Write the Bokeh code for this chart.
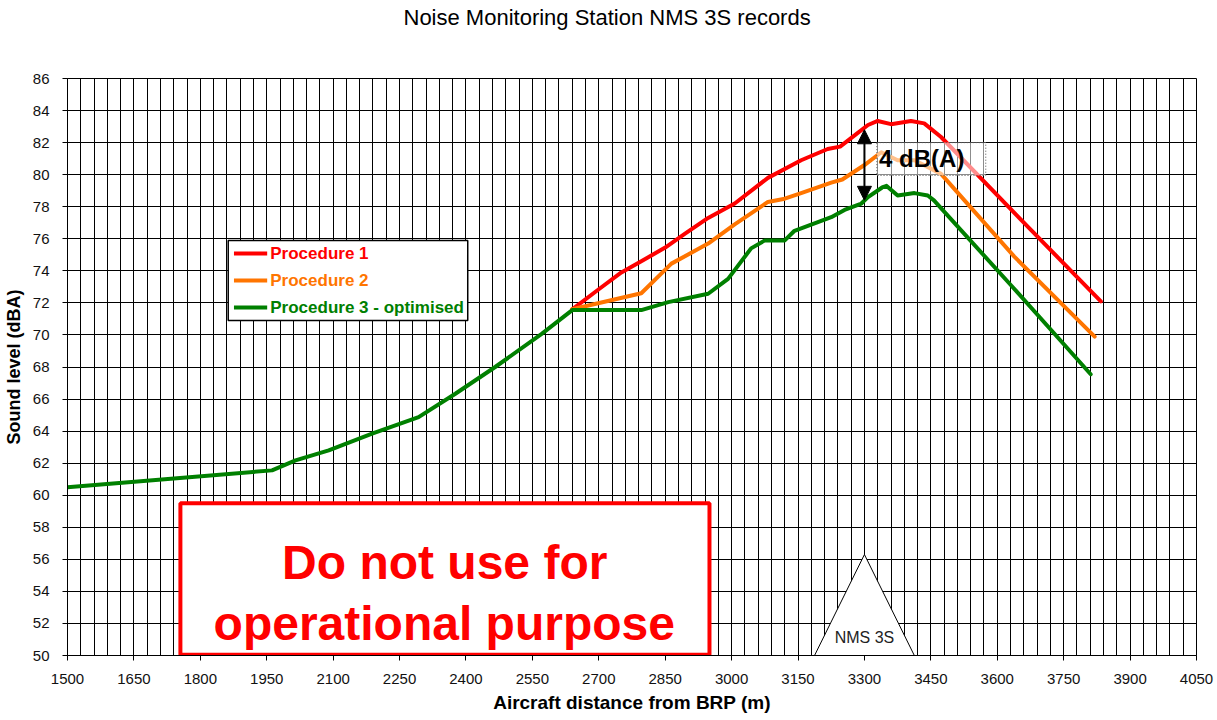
from bokeh.plotting import figure
from bokeh.models import Range1d, SingleIntervalTicker, Label, Arrow, NormalHead, ColumnDataSource, Title
from bokeh.core.properties import value
from bokeh.embed import file_html
from bokeh.resources import INLINE

# ---------------- data ----------------
dist_p1 = [2640, 2700, 2751, 2796, 2850, 2894, 2947, 3007, 3082, 3157, 3217, 3245,
           3280, 3308, 3330, 3360, 3405, 3435, 3473, 3676, 3834]
level_p1 = [71.6, 72.85, 73.9, 74.6, 75.45, 76.3, 77.3, 78.2, 79.8, 80.9, 81.6, 81.75,
            82.5, 83.1, 83.35, 83.15, 83.35, 83.2, 82.35, 76.55, 72.1]

dist_p2 = [2640, 2796, 2864, 2947, 3007, 3082, 3120, 3157, 3225, 3250, 3300, 3338,
           3375, 3413, 3473, 3638, 3820]
level_p2 = [71.6, 72.6, 74.45, 75.7, 76.9, 78.3, 78.5, 78.85, 79.5, 79.7, 80.6, 81.4,
            80.9, 80.9, 80.05, 74.9, 69.9]

dist_p3 = [1500, 1962, 2015, 2090, 2188, 2293, 2376, 2466, 2571, 2640, 2796, 2857,
           2947, 2992, 3044, 3075, 3120, 3142, 3225, 3255, 3293, 3308, 3340, 3350,
           3375, 3413, 3443, 3457, 3631, 3811]
level_p3 = [60.5, 61.55, 62.17, 62.8, 63.84, 64.87, 66.33, 68.0, 70.07, 71.55, 71.55, 72.05,
            72.57, 73.5, 75.4, 75.9, 75.9, 76.5, 77.35, 77.8, 78.2, 78.6, 79.2, 79.3,
            78.7, 78.85, 78.7, 78.4, 73.1, 67.55]

series_names = ["Procedure 1", "Procedure 2", "Procedure 3 - optimised"]
series_colors = ["#FF0000", "#FF7500", "#008000"]

station_x = 3300
station_name = "NMS 3S"
peak_diff_label = "4 dB(A)"
warning_lines = ["Do not use for", "operational purpose"]
title_text = "Noise Monitoring Station NMS 3S records"

x_min, x_max, x_step, x_minor = 1500, 4050, 150, 5
y_min, y_max, y_step = 50, 86, 2

FONT = "Liberation Sans"

p = figure(width=1217, height=720, output_backend="svg", toolbar_location=None,
           x_range=Range1d(x_min, x_max), y_range=Range1d(y_min, y_max),
           min_border_left=65, min_border_right=21, min_border_top=78, min_border_bottom=65,
           background_fill_color="white", border_fill_color="white")
p.outline_line_color = "black"
p.outline_line_width = 1

# title (a blank spacer title sits between the real title and the frame)
spacer = Title(text=" ", text_font=FONT, text_font_size="22px", standoff=17)
p.add_layout(spacer, "above")
p.title.text = title_text
p.title.text_font = FONT
p.title.text_font_size = "22px"
p.title.text_font_style = "normal"
p.title.text_color = "black"
p.title.align = "left"
p.title.offset = 336
p.title.vertical_align = "middle"
p.title.standoff = 7

# axes
p.xaxis.ticker = SingleIntervalTicker(interval=x_step, num_minor_ticks=x_minor)
p.yaxis.ticker = SingleIntervalTicker(interval=y_step, num_minor_ticks=0)
for ax in (p.xaxis, p.yaxis):
    ax.axis_line_color = "black"
    ax.major_tick_line_color = "black"
    ax.major_tick_in = 0
    ax.major_tick_out = 5
    ax.minor_tick_line_color = None
    ax.major_label_text_font = FONT
    ax.major_label_text_font_size = "15px"
    ax.major_label_text_color = "#111111"
    ax.axis_label_text_font = FONT
    ax.axis_label_text_font_style = "bold"
    ax.axis_label_text_font_size = "18px"
    ax.axis_label_text_color = "black"
p.xaxis.axis_label_text_font_size = "19px"
p.xaxis.major_label_standoff = 13
p.yaxis.major_label_standoff = 13
p.xaxis.axis_label = "Aircraft distance from BRP (m)"
p.yaxis.axis_label = "Sound level (dBA)"
p.xaxis.axis_label_standoff = 5
p.yaxis.axis_label_standoff = 6

# grid
p.xgrid.grid_line_color = "black"
p.xgrid.minor_grid_line_color = "black"
p.ygrid.grid_line_color = "black"

# series
for xs, ys, col in ((dist_p1, level_p1, series_colors[0]),
                    (dist_p2, level_p2, series_colors[1]),
                    (dist_p3, level_p3, series_colors[2])):
    p.line(xs, ys, line_color=col, line_width=4, line_join="round", line_cap="round")

# legend (manual, coloured labels)
lg_left, lg_right, lg_top, lg_bottom = 1863, 2404, 75.9, 70.9
p.quad(left=[lg_left], right=[lg_right], top=[lg_top], bottom=[lg_bottom],
       fill_color="white", line_color="black", line_width=1.5)
lg_rows = [75.08, 73.4, 71.71]
p.segment(x0=[1876] * 3, x1=[1951] * 3, y0=lg_rows, y1=lg_rows,
          line_color=series_colors, line_width=4)
lsrc = ColumnDataSource(dict(x=[1958] * 3, y=lg_rows, t=series_names, c=series_colors))
p.text(x="x", y="y", text="t", text_color="c", source=lsrc, text_font=value(FONT),
       text_font_style="bold", text_font_size="17px", text_baseline="middle", text_align="left")

# warning box
p.quad(left=[1755], right=[2950], top=[59.5], bottom=[50.05],
       fill_color="white", line_color="#FF0000", line_width=4)
wsrc = ColumnDataSource(dict(x=[2352, 2351], y=[55.8, 52.0], t=warning_lines))
p.text(x="x", y="y", text="t", source=wsrc, text_font=value(FONT),
       text_font_style="bold", text_font_size="48px", text_color="#FF0000",
       text_align="center", text_baseline="alphabetic")

# station triangle
half_w, apex_h = 112.7, 6.3
p.patch([station_x - half_w, station_x, station_x + half_w],
        [y_min, y_min + apex_h, y_min], fill_color="white", line_color="black", line_width=1)
p.text(x=[station_x], y=[51.13], text=[station_name], text_font=value(FONT),
       text_font_size="16px", text_color="#222222", text_align="center", text_baseline="middle")

# peak difference annotation
p.quad(left=[3328], right=[3574], top=[82.0], bottom=[79.95], fill_color="white",
       fill_alpha=0.55, line_color="#555555", line_dash="1 2", line_width=1)
p.add_layout(Arrow(start=NormalHead(size=14, fill_color="black", line_color="black"),
                   end=NormalHead(size=14, fill_color="black", line_color="black"),
                   x_start=station_x, y_start=82.8, x_end=station_x, y_end=78.4,
                   line_color="black", line_width=2))
p.add_layout(Label(x=3333, y=81.0, text=peak_diff_label, text_font=FONT,
                   text_font_style="bold", text_font_size="24px", text_color="black",
                   text_baseline="middle", text_align="left"))

open("out.html", "w").write(file_html(p, INLINE))
